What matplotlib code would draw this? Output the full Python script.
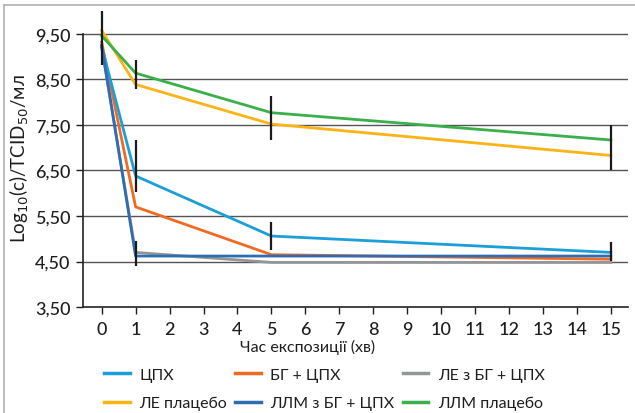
import matplotlib.pyplot as plt
from matplotlib.lines import Line2D
import numpy as np

plt.rcParams['font.family'] = ['Lato', 'DejaVu Sans']

# час експозиції (хв)
times = [0, 1, 5, 15]

# log10 титри для кожної групи
cpx = [9.22, 6.38, 5.06, 4.70]
bg_cpx = [9.32, 5.70, 4.65, 4.55]
le_bg_cpx = [9.20, 4.70, 4.48, 4.48]
le_placebo = [9.58, 8.39, 7.52, 6.83]
llm_bg_cpx = [9.25, 4.62, 4.62, 4.62]
llm_placebo = [9.46, 8.64, 7.77, 7.17]

series_names = ['ЦПХ', 'БГ + ЦПХ', 'ЛЕ з БГ + ЦПХ',
                'ЛЕ плацебо', 'ЛЛМ з БГ + ЦПХ', 'ЛЛМ плацебо']
series_colors = ['#1a9fd9', '#f26a21', '#939598',
                 '#fbb316', '#2e6db4', '#3ab04a']

# планки похибок (x, нижня межа, верхня межа)
err_x = [0, 1, 1, 1, 5, 5, 15, 15]
err_lo = [8.82, 8.29, 6.02, 4.40, 7.16, 4.76, 6.50, 4.52]
err_hi = [10.00, 8.93, 7.16, 4.96, 8.13, 5.37, 7.50, 4.92]

y_ticks = [3.5, 4.5, 5.5, 6.5, 7.5, 8.5, 9.5]
y_tick_labels = ['3,50', '4,50', '5,50', '6,50', '7,50', '8,50', '9,50']

text_color = '#1e1e1e'

fig = plt.figure(figsize=(6.35, 4.14), dpi=100)
ax = fig.add_axes([0.1307, 0.256, 0.858, 0.720])

ax.set_xlim(-0.55, 15.5)
ax.set_ylim(3.5, 10.05)

# сітка
for yv in y_ticks[1:]:
    ax.axhline(yv, color='#555555', lw=1.0, zorder=1)

all_series = [cpx, bg_cpx, le_bg_cpx, le_placebo, llm_bg_cpx, llm_placebo]
draw_order = [2, 1, 0, 4, 3, 5]
for i in draw_order:
    ax.plot(times, all_series[i], color=series_colors[i], lw=2.0,
            solid_joinstyle='round', zorder=3)

ax.vlines(err_x, err_lo, err_hi, color='#1a1a1a', lw=1.6, zorder=4)

ax.set_xticks(range(16))
ax.set_yticks(y_ticks)
ax.set_yticklabels(y_tick_labels)
ax.tick_params(axis='both', labelsize=13, colors=text_color, length=5,
               width=1.0, pad=4)
ax.tick_params(axis='x', pad=5)
for lbl in ax.get_xticklabels() + ax.get_yticklabels():
    lbl.set_fontweight('medium')

for s in ['top', 'right']:
    ax.spines[s].set_visible(False)
ax.spines['left'].set_bounds(3.5, 9.5)
for s in ['left', 'bottom']:
    ax.spines[s].set_color('#222222')
    ax.spines[s].set_linewidth(1.2)

ax.set_ylabel('Log$_{10}$(c)/TCID$_{50}$/мл', fontsize=13.5, color=text_color)
ax.yaxis.set_label_coords(-0.095, 0.50)
fig.text(308 / 635, 1 - 347 / 414, 'Час експозиції (хв)', fontsize=11.5,
         ha='center', va='center', color=text_color)

# легенда: рядок за рядком
leg_order = [0, 3, 1, 4, 2, 5]
handles = [Line2D([0], [0], color=series_colors[i], lw=2.5) for i in leg_order]
labels = [series_names[i] for i in leg_order]
fig.legend(handles, labels, ncol=3, loc='upper left',
           bbox_to_anchor=(90 / 635, 1 - 354 / 414), frameon=False,
           fontsize=11.5, handlelength=1.6, handletextpad=0.6,
           columnspacing=0.5, labelspacing=0.9, labelcolor=text_color)

# рамка зверху і зліва
fig.add_artist(Line2D([3.5 / 635, 3.5 / 635], [0, 1 - 6 / 414],
                      color='#b0b0b0', lw=1.2))
fig.add_artist(Line2D([3.5 / 635, 1], [1 - 6 / 414, 1 - 6 / 414],
                      color='#b0b0b0', lw=1.2))

fig.savefig('out.png', dpi=100)
